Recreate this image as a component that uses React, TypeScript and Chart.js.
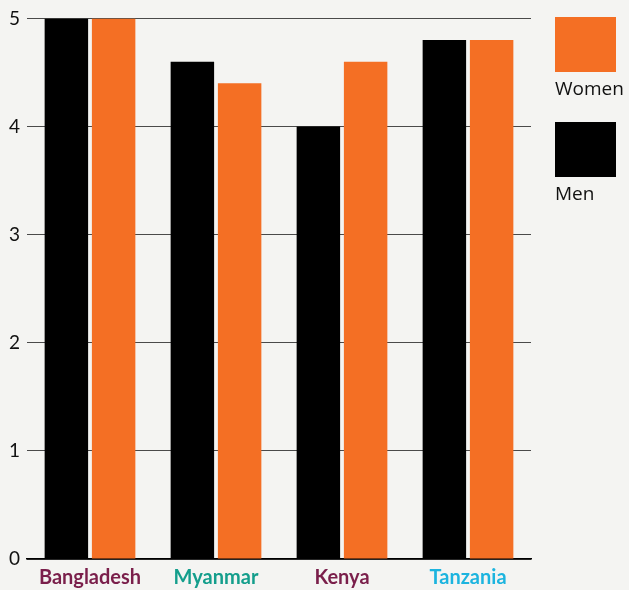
import React, { useEffect, useRef } from "react";
import { Chart, registerables } from "chart.js";

Chart.register(...registerables);

const categories = ["Bangladesh", "Myanmar", "Kenya", "Tanzania"];
const categoryColors = ["#7a1f4b", "#149e8c", "#7a1f4b", "#1cb4df"];
const menValues = [5, 4.6, 4.0, 4.8];
const womenValues = [5, 4.4, 4.6, 4.8];
const yTicks = [0, 1, 2, 3, 4, 5];

const BG = "#f4f4f2";
const ORANGE = "#f46f24";
const FONT = "Lato, 'Open Sans', sans-serif";
const LEGEND_FONT = "'Open Sans', sans-serif";

export default function App() {
  const ref = useRef<HTMLCanvasElement | null>(null);

  useEffect(() => {
    document.body.style.margin = "0";
    document.body.style.background = BG;
    const barOpts = {
      barPercentage: 0.92,
      categoryPercentage: 0.75,
      borderWidth: 0,
    };
    const chart = new Chart(ref.current!, {
      type: "bar",
      data: {
        labels: categories,
        datasets: [
          { label: "Men", data: menValues, backgroundColor: "#000000", ...barOpts },
          { label: "Women", data: womenValues, backgroundColor: ORANGE, ...barOpts },
        ],
      },
      options: {
        responsive: false,
        animation: false,
        layout: { padding: { top: 18, right: 98, left: 0, bottom: 0 } },
        plugins: { legend: { display: false }, tooltip: { enabled: false } },
        scales: {
          x: {
            grid: { display: false, drawTicks: false },
            border: { display: true, color: "#000", width: 1.5 },
            ticks: {
              padding: 7,
              color: (ctx: any) => categoryColors[ctx.index] || "#000",
              font: { family: FONT, size: 20, weight: "bold" },
            },
            afterFit: (s: any) => { s.height = 31; },
          },
          y: {
            min: 0,
            max: 5,
            afterBuildTicks: (s: any) => { s.ticks = yTicks.map((v) => ({ value: v })); },
            grid: { color: "#4a4a4a", lineWidth: 1, drawTicks: false },
            border: { display: false },
            ticks: {
              padding: 7,
              color: "#111",
              font: { family: FONT, size: 19 },
            },
            afterFit: (s: any) => { s.width = 27; },
          },
        },
      },
    });
    return () => chart.destroy();
  }, []);

  const box = (top: number, color: string) => (
    <div style={{ position: "absolute", left: 555, top, width: 61, height: 55, background: color }} />
  );
  const label = (top: number, text: string) => (
    <div style={{ position: "absolute", left: 555, top, fontFamily: LEGEND_FONT, fontSize: 19, color: "#111", lineHeight: "20px", whiteSpace: "nowrap" }}>{text}</div>
  );

  return (
    <div style={{ position: "relative", width: 629, height: 590, background: BG }}>
      <canvas ref={ref} width={629} height={590} style={{ position: "absolute", left: 0, top: 0 }} />
      {box(17, ORANGE)}
      {label(78, "Women")}
      {box(122, "#000")}
      {label(183, "Men")}
    </div>
  );
}
